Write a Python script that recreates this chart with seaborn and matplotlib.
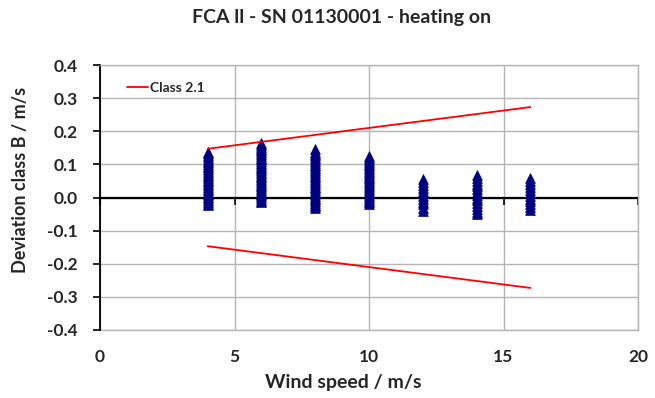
import matplotlib
matplotlib.use("Agg")
import matplotlib.pyplot as plt
import pandas as pd
import seaborn as sns

# Wind speed bins (m/s) and the deviations measured in each bin (m/s)
dev_4 = [-0.024, -0.019, -0.013, -0.008, -0.003, 0.003, 0.008, 0.012, 0.018, 0.023,
         0.027, 0.033, 0.038, 0.044, 0.049, 0.053, 0.059, 0.064, 0.069, 0.075,
         0.080, 0.086, 0.091, 0.095, 0.101, 0.106, 0.111, 0.117, 0.122, 0.127,
         0.133, 0.138]
dev_6 = [-0.015, -0.010, -0.004, 0.001, 0.007, 0.012, 0.017, 0.023, 0.028, 0.034,
         0.039, 0.044, 0.050, 0.055, 0.061, 0.066, 0.071, 0.077, 0.082, 0.088,
         0.093, 0.098, 0.104, 0.109, 0.115, 0.120, 0.125, 0.131, 0.136, 0.142,
         0.147, 0.152, 0.158, 0.165]
dev_8 = [-0.033, -0.027, -0.022, -0.016, -0.011, -0.005, 0.000, 0.006, 0.011, 0.017,
         0.022, 0.028, 0.033, 0.039, 0.044, 0.050, 0.055, 0.061, 0.066, 0.072,
         0.077, 0.083, 0.088, 0.094, 0.099, 0.105, 0.110, 0.116, 0.121, 0.127,
         0.132, 0.138, 0.145]
dev_10 = [-0.021, -0.015, -0.010, -0.004, 0.002, 0.007, 0.013, 0.018, 0.024, 0.030,
          0.035, 0.041, 0.046, 0.052, 0.058, 0.063, 0.069, 0.074, 0.080, 0.086,
          0.091, 0.097, 0.102, 0.108, 0.113, 0.119, 0.124]
dev_12 = [-0.042, -0.031, -0.020, -0.013, -0.004, 0.005, 0.013, 0.021, 0.030, 0.039,
          0.048, 0.057]
dev_14 = [-0.051, -0.043, -0.034, -0.026, -0.017, -0.009, 0.000, 0.008, 0.017, 0.025,
          0.034, 0.042, 0.050, 0.059, 0.067]
dev_16 = [-0.039, -0.030, -0.021, -0.012, -0.004, 0.005, 0.014, 0.023, 0.032, 0.041,
          0.050, 0.060]
bins = {4: dev_4, 6: dev_6, 8: dev_8, 10: dev_10, 12: dev_12, 14: dev_14, 16: dev_16}

# Class 2.1 tolerance band
class_ws = [4, 16]
class_upper = [0.147, 0.273]
class_lower = [-0.147, -0.273]

x_ticks = [0, 5, 10, 15, 20]
y_ticks = [-0.4, -0.3, -0.2, -0.1, 0.0, 0.1, 0.2, 0.3, 0.4]

title = "FCA ll - SN 01130001 - heating on"
x_label = "Wind speed / m/s"
y_label = "Deviation class B / m/s"
legend_label = "Class 2.1"

points = pd.DataFrame(
    [(ws, d) for ws, devs in bins.items() for d in devs], columns=["ws", "dev"]
)
band = pd.DataFrame({"ws": class_ws, "upper": class_upper, "lower": class_lower})

sns.set_theme(style="ticks")
plt.rcParams["font.family"] = ["Lato", "DejaVu Sans"]

grid_col = "#b5b5b5"
fig = plt.figure(figsize=(6.55, 3.98), dpi=100)
ax = fig.add_axes([100 / 655, 1 - 330 / 398, 538 / 655, 265 / 398])

sns.scatterplot(data=points, x="ws", y="dev", marker="^", s=50, color="#000080",
                edgecolor="#000080", linewidth=0.5, legend=False, ax=ax, zorder=3)
sns.lineplot(data=band, x="ws", y="upper", color="red", lw=1.3, ax=ax,
             label=legend_label, zorder=4)
sns.lineplot(data=band, x="ws", y="lower", color="red", lw=1.3, ax=ax,
             label="_nolegend_", zorder=4)

ax.set_xlim(0, 20)
ax.set_ylim(-0.4, 0.4)
ax.set_xticks(x_ticks)
ax.set_yticks(y_ticks)
ax.set_yticklabels([f"{v:.1f}" for v in y_ticks], fontweight="bold", fontsize=12.5)
ax.grid(True, color=grid_col, lw=1)
ax.set_axisbelow(True)

# x axis line runs through zero; labels sit along the bottom edge
ax.spines["bottom"].set_position(("data", 0))
ax.spines["bottom"].set_color("black")
ax.spines["bottom"].set_linewidth(1.6)
ax.spines["bottom"].set_zorder(2)
ax.tick_params(axis="x", direction="out", length=5, width=1.2, color="black",
               labelbottom=False)
ax.spines["left"].set_color("black")
ax.spines["left"].set_linewidth(1.3)
ax.tick_params(axis="y", direction="out", length=5, width=1.2, color="black", pad=11)
for side in ("top", "right"):
    ax.spines[side].set_visible(True)
    ax.spines[side].set_color(grid_col)
    ax.spines[side].set_linewidth(1)

sec = ax.secondary_xaxis("bottom")
sec.set_xticks(x_ticks)
sec.set_xticklabels([str(v) for v in x_ticks], fontweight="bold", fontsize=12.5)
sec.tick_params(length=0, pad=14)
sec.spines["bottom"].set_color(grid_col)
sec.spines["bottom"].set_linewidth(1)

ax.set_xlabel(x_label, fontweight="bold", fontsize=14)
ax.xaxis.set_label_coords((343.5 - 100) / 538, (330 - 374) / 265)
ax.set_ylabel(y_label, fontweight="bold", fontsize=13)
ax.yaxis.set_label_coords((29 - 100) / 538, (330 - 180) / 265)

ax.legend(loc="center left", bbox_to_anchor=(0.05, 0.913), frameon=False,
          prop={"weight": "bold", "size": 10}, handlelength=1.5, handletextpad=0.15,
          borderpad=0, borderaxespad=0)

fig.text(342 / 655, 1 - 18 / 398, title, ha="center", va="center",
         fontweight="bold", fontsize=14)

fig.savefig("out.png", dpi=100)
